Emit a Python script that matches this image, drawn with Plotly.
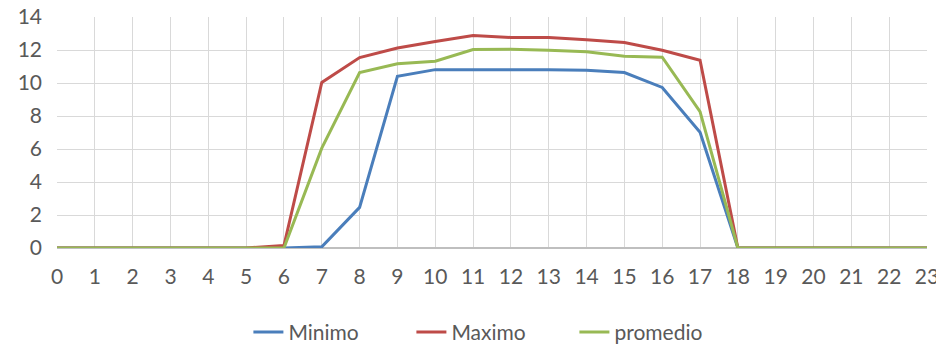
import plotly.graph_objects as go

hours = list(range(24))
minimo = [0, 0, 0, 0, 0, 0, 0, 0.07, 2.46, 10.41, 10.81, 10.8, 10.81, 10.8, 10.78, 10.63, 9.73, 7.01, 0, 0, 0, 0, 0, 0]
maximo = [0, 0, 0, 0, 0, 0, 0.15, 10.03, 11.54, 12.12, 12.52, 12.88, 12.76, 12.76, 12.62, 12.46, 11.98, 11.38, 0, 0, 0, 0, 0, 0]
promedio = [0, 0, 0, 0, 0, 0, 0, 6.05, 10.63, 11.16, 11.32, 12.03, 12.05, 11.98, 11.9, 11.62, 11.56, 8.26, 0, 0, 0, 0, 0, 0]
y_ticks = [0, 2, 4, 6, 8, 10, 12, 14]

series = [("Minimo", minimo, "#4A7EBB"), ("Maximo", maximo, "#BE4B48"), ("promedio", promedio, "#98B954")]

fig = go.Figure()
for name, vals, col in series:
    fig.add_trace(go.Scatter(x=hours, y=vals, name=name, mode="lines",
                             line=dict(color=col, width=3)))

font = dict(family="Lato, Carlito, Calibri, sans-serif", size=21, color="#595959")
fig.update_layout(
    width=936, height=341,
    margin=dict(l=49, r=17, t=9, b=100.5, autoexpand=False),
    paper_bgcolor="white", plot_bgcolor="white",
    font=font,
    showlegend=True,
    legend=dict(orientation="h", x=0.22, xanchor="left", y=-0.365, yanchor="middle",
                font=font, itemwidth=30, entrywidth=118, traceorder="normal"),
)
fig.update_xaxes(range=[0, 23], tickmode="array", tickvals=hours, ticktext=[str(h) for h in hours],
                 showgrid=True, gridcolor="#D9D9D9", gridwidth=1.3, ticklabeloverflow="allow",
                 showline=False, zeroline=False, ticks="", ticklabelstandoff=14)
fig.update_yaxes(range=[0, 14], tickmode="array", tickvals=y_ticks, ticktext=[str(v) for v in y_ticks],
                 showgrid=True, gridcolor="#D9D9D9", gridwidth=1.3, ticklabeloverflow="allow",
                 zeroline=True, zerolinecolor="#BFBFBF", zerolinewidth=1.5,
                 showline=False, ticks="", ticklabelstandoff=14)

fig.write_html("out.html")
